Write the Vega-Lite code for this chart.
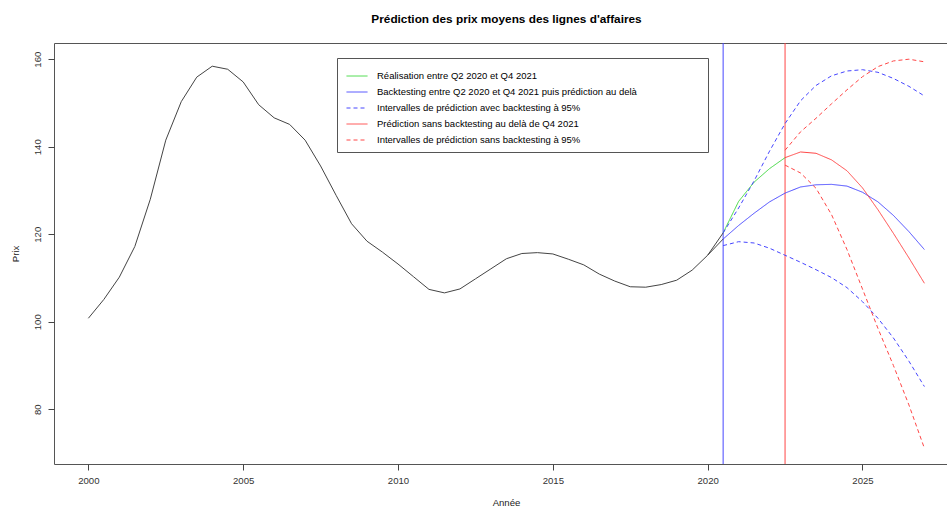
{
  "$schema": "https://vega.github.io/schema/vega-lite/v6.json",
  "autosize": "none",
  "width": 893,
  "height": 421,
  "padding": {"left": 54, "top": 43, "right": 0, "bottom": 46},
  "background": "white",
  "config": {
    "font": "Liberation Sans",
    "view": {"stroke": "#555", "strokeWidth": 1},
    "axis": {"grid": false, "domain": false, "tickColor": "#444", "tickSize": 6, "labelFont": "Liberation Sans", "labelFontSize": 9.6, "labelColor": "#333", "titleFont": "Liberation Sans", "titleFontSize": 9.6, "titleFontWeight": "normal", "titleColor": "#222"}
  },
  "title": {"text": "Prédiction des prix moyens des lignes d'affaires", "font": "Liberation Sans", "fontSize": 11.8, "fontWeight": "bold", "color": "#000", "anchor": "middle", "dx": 6, "offset": 17},
  "datasets": {
    "hist": [
      {"t": 2000, "v": 100.8, "g": "a"}, {"t": 2000.5, "v": 105.1, "g": "a"}, {"t": 2001, "v": 110.2, "g": "a"}, {"t": 2001.5, "v": 117.2, "g": "a"},
      {"t": 2002, "v": 128.0, "g": "a"}, {"t": 2002.5, "v": 141.5, "g": "a"}, {"t": 2003, "v": 150.3, "g": "a"}, {"t": 2003.5, "v": 155.9, "g": "a"},
      {"t": 2004, "v": 158.4, "g": "a"}, {"t": 2004.5, "v": 157.7, "g": "a"}, {"t": 2005, "v": 154.8, "g": "a"}, {"t": 2005.5, "v": 149.6, "g": "a"},
      {"t": 2006, "v": 146.6, "g": "a"}, {"t": 2006.5, "v": 145.1, "g": "a"}, {"t": 2007, "v": 141.5, "g": "a"}, {"t": 2007.5, "v": 135.6, "g": "a"},
      {"t": 2008, "v": 128.9, "g": "a"}, {"t": 2008.5, "v": 122.4, "g": "a"}, {"t": 2009, "v": 118.4, "g": "a"}, {"t": 2009.5, "v": 115.9, "g": "a"},
      {"t": 2010, "v": 113.2, "g": "a"}, {"t": 2010.5, "v": 110.3, "g": "a"}, {"t": 2011, "v": 107.4, "g": "a"}, {"t": 2011.5, "v": 106.6, "g": "a"},
      {"t": 2012, "v": 107.5, "g": "a"}, {"t": 2012.5, "v": 109.8, "g": "a"}, {"t": 2013, "v": 112.1, "g": "a"}, {"t": 2013.5, "v": 114.4, "g": "a"},
      {"t": 2014, "v": 115.6, "g": "a"}, {"t": 2014.5, "v": 115.8, "g": "a"}, {"t": 2015, "v": 115.5, "g": "a"}, {"t": 2015.5, "v": 114.3, "g": "a"},
      {"t": 2016, "v": 113.0, "g": "a"}, {"t": 2016.5, "v": 110.9, "g": "a"}, {"t": 2017, "v": 109.3, "g": "a"}, {"t": 2017.5, "v": 108.0, "g": "a"},
      {"t": 2018, "v": 107.9, "g": "a"}, {"t": 2018.5, "v": 108.5, "g": "a"}, {"t": 2019, "v": 109.5, "g": "a"}, {"t": 2019.5, "v": 111.8, "g": "a"},
      {"t": 2020, "v": 115.2, "g": "a"}, {"t": 2020.5, "v": 120.3, "g": "a"},
      {"t": 2020, "v": 115.2, "g": "b"}, {"t": 2020.5, "v": 118.9, "g": "b"}
    ],
    "prev": [
      {"t": 2020.5, "v": 120.3, "s": "Réalisation entre Q2 2020 et Q4 2021", "g": "g"},
      {"t": 2021, "v": 127.5, "s": "Réalisation entre Q2 2020 et Q4 2021", "g": "g"},
      {"t": 2021.5, "v": 131.9, "s": "Réalisation entre Q2 2020 et Q4 2021", "g": "g"},
      {"t": 2022, "v": 135.0, "s": "Réalisation entre Q2 2020 et Q4 2021", "g": "g"},
      {"t": 2022.5, "v": 137.5, "s": "Réalisation entre Q2 2020 et Q4 2021", "g": "g"},

      {"t": 2020.5, "v": 118.9, "s": "Backtesting entre Q2 2020 et Q4 2021 puis prédiction au delà", "g": "b"},
      {"t": 2021, "v": 122.0, "s": "Backtesting entre Q2 2020 et Q4 2021 puis prédiction au delà", "g": "b"},
      {"t": 2021.5, "v": 124.8, "s": "Backtesting entre Q2 2020 et Q4 2021 puis prédiction au delà", "g": "b"},
      {"t": 2022, "v": 127.4, "s": "Backtesting entre Q2 2020 et Q4 2021 puis prédiction au delà", "g": "b"},
      {"t": 2022.5, "v": 129.4, "s": "Backtesting entre Q2 2020 et Q4 2021 puis prédiction au delà", "g": "b"},
      {"t": 2023, "v": 130.8, "s": "Backtesting entre Q2 2020 et Q4 2021 puis prédiction au delà", "g": "b"},
      {"t": 2023.5, "v": 131.3, "s": "Backtesting entre Q2 2020 et Q4 2021 puis prédiction au delà", "g": "b"},
      {"t": 2024, "v": 131.4, "s": "Backtesting entre Q2 2020 et Q4 2021 puis prédiction au delà", "g": "b"},
      {"t": 2024.5, "v": 131.0, "s": "Backtesting entre Q2 2020 et Q4 2021 puis prédiction au delà", "g": "b"},
      {"t": 2025, "v": 129.6, "s": "Backtesting entre Q2 2020 et Q4 2021 puis prédiction au delà", "g": "b"},
      {"t": 2025.5, "v": 127.4, "s": "Backtesting entre Q2 2020 et Q4 2021 puis prédiction au delà", "g": "b"},
      {"t": 2026, "v": 124.3, "s": "Backtesting entre Q2 2020 et Q4 2021 puis prédiction au delà", "g": "b"},
      {"t": 2026.5, "v": 120.6, "s": "Backtesting entre Q2 2020 et Q4 2021 puis prédiction au delà", "g": "b"},
      {"t": 2027, "v": 116.5, "s": "Backtesting entre Q2 2020 et Q4 2021 puis prédiction au delà", "g": "b"},

      {"t": 2020.5, "v": 120.3, "s": "Intervalles de prédiction avec backtesting à 95%", "g": "bu"},
      {"t": 2021, "v": 126.0, "s": "Intervalles de prédiction avec backtesting à 95%", "g": "bu"},
      {"t": 2021.5, "v": 132.2, "s": "Intervalles de prédiction avec backtesting à 95%", "g": "bu"},
      {"t": 2022, "v": 139.0, "s": "Intervalles de prédiction avec backtesting à 95%", "g": "bu"},
      {"t": 2022.5, "v": 145.3, "s": "Intervalles de prédiction avec backtesting à 95%", "g": "bu"},
      {"t": 2023, "v": 150.5, "s": "Intervalles de prédiction avec backtesting à 95%", "g": "bu"},
      {"t": 2023.5, "v": 154.0, "s": "Intervalles de prédiction avec backtesting à 95%", "g": "bu"},
      {"t": 2024, "v": 156.2, "s": "Intervalles de prédiction avec backtesting à 95%", "g": "bu"},
      {"t": 2024.5, "v": 157.3, "s": "Intervalles de prédiction avec backtesting à 95%", "g": "bu"},
      {"t": 2025, "v": 157.6, "s": "Intervalles de prédiction avec backtesting à 95%", "g": "bu"},
      {"t": 2025.5, "v": 157.0, "s": "Intervalles de prédiction avec backtesting à 95%", "g": "bu"},
      {"t": 2026, "v": 155.6, "s": "Intervalles de prédiction avec backtesting à 95%", "g": "bu"},
      {"t": 2026.5, "v": 153.8, "s": "Intervalles de prédiction avec backtesting à 95%", "g": "bu"},
      {"t": 2027, "v": 151.6, "s": "Intervalles de prédiction avec backtesting à 95%", "g": "bu"},

      {"t": 2020.5, "v": 117.4, "s": "Intervalles de prédiction avec backtesting à 95%", "g": "bl"},
      {"t": 2021, "v": 118.3, "s": "Intervalles de prédiction avec backtesting à 95%", "g": "bl"},
      {"t": 2021.5, "v": 118.0, "s": "Intervalles de prédiction avec backtesting à 95%", "g": "bl"},
      {"t": 2022, "v": 116.8, "s": "Intervalles de prédiction avec backtesting à 95%", "g": "bl"},
      {"t": 2022.5, "v": 115.2, "s": "Intervalles de prédiction avec backtesting à 95%", "g": "bl"},
      {"t": 2023, "v": 113.6, "s": "Intervalles de prédiction avec backtesting à 95%", "g": "bl"},
      {"t": 2023.5, "v": 111.9, "s": "Intervalles de prédiction avec backtesting à 95%", "g": "bl"},
      {"t": 2024, "v": 110.1, "s": "Intervalles de prédiction avec backtesting à 95%", "g": "bl"},
      {"t": 2024.5, "v": 107.8, "s": "Intervalles de prédiction avec backtesting à 95%", "g": "bl"},
      {"t": 2025, "v": 104.6, "s": "Intervalles de prédiction avec backtesting à 95%", "g": "bl"},
      {"t": 2025.5, "v": 100.8, "s": "Intervalles de prédiction avec backtesting à 95%", "g": "bl"},
      {"t": 2026, "v": 96.3, "s": "Intervalles de prédiction avec backtesting à 95%", "g": "bl"},
      {"t": 2026.5, "v": 91.0, "s": "Intervalles de prédiction avec backtesting à 95%", "g": "bl"},
      {"t": 2027, "v": 85.2, "s": "Intervalles de prédiction avec backtesting à 95%", "g": "bl"},

      {"t": 2022.5, "v": 137.5, "s": "Prédiction sans backtesting au delà de Q4 2021", "g": "r"},
      {"t": 2023, "v": 138.8, "s": "Prédiction sans backtesting au delà de Q4 2021", "g": "r"},
      {"t": 2023.5, "v": 138.5, "s": "Prédiction sans backtesting au delà de Q4 2021", "g": "r"},
      {"t": 2024, "v": 137.0, "s": "Prédiction sans backtesting au delà de Q4 2021", "g": "r"},
      {"t": 2024.5, "v": 134.5, "s": "Prédiction sans backtesting au delà de Q4 2021", "g": "r"},
      {"t": 2025, "v": 130.6, "s": "Prédiction sans backtesting au delà de Q4 2021", "g": "r"},
      {"t": 2025.5, "v": 125.6, "s": "Prédiction sans backtesting au delà de Q4 2021", "g": "r"},
      {"t": 2026, "v": 120.2, "s": "Prédiction sans backtesting au delà de Q4 2021", "g": "r"},
      {"t": 2026.5, "v": 114.6, "s": "Prédiction sans backtesting au delà de Q4 2021", "g": "r"},
      {"t": 2027, "v": 108.8, "s": "Prédiction sans backtesting au delà de Q4 2021", "g": "r"},

      {"t": 2022.5, "v": 139.2, "s": "Intervalles de prédiction sans backtesting à 95%", "g": "ru"},
      {"t": 2023, "v": 143.4, "s": "Intervalles de prédiction sans backtesting à 95%", "g": "ru"},
      {"t": 2023.5, "v": 146.5, "s": "Intervalles de prédiction sans backtesting à 95%", "g": "ru"},
      {"t": 2024, "v": 149.8, "s": "Intervalles de prédiction sans backtesting à 95%", "g": "ru"},
      {"t": 2024.5, "v": 153.0, "s": "Intervalles de prédiction sans backtesting à 95%", "g": "ru"},
      {"t": 2025, "v": 156.0, "s": "Intervalles de prédiction sans backtesting à 95%", "g": "ru"},
      {"t": 2025.5, "v": 158.3, "s": "Intervalles de prédiction sans backtesting à 95%", "g": "ru"},
      {"t": 2026, "v": 159.6, "s": "Intervalles de prédiction sans backtesting à 95%", "g": "ru"},
      {"t": 2026.5, "v": 160.0, "s": "Intervalles de prédiction sans backtesting à 95%", "g": "ru"},
      {"t": 2027, "v": 159.4, "s": "Intervalles de prédiction sans backtesting à 95%", "g": "ru"},

      {"t": 2022.5, "v": 135.8, "s": "Intervalles de prédiction sans backtesting à 95%", "g": "rl"},
      {"t": 2023, "v": 134.0, "s": "Intervalles de prédiction sans backtesting à 95%", "g": "rl"},
      {"t": 2023.5, "v": 130.5, "s": "Intervalles de prédiction sans backtesting à 95%", "g": "rl"},
      {"t": 2024, "v": 124.5, "s": "Intervalles de prédiction sans backtesting à 95%", "g": "rl"},
      {"t": 2024.5, "v": 116.5, "s": "Intervalles de prédiction sans backtesting à 95%", "g": "rl"},
      {"t": 2025, "v": 107.5, "s": "Intervalles de prédiction sans backtesting à 95%", "g": "rl"},
      {"t": 2025.5, "v": 98.5, "s": "Intervalles de prédiction sans backtesting à 95%", "g": "rl"},
      {"t": 2026, "v": 90.0, "s": "Intervalles de prédiction sans backtesting à 95%", "g": "rl"},
      {"t": 2026.5, "v": 81.0, "s": "Intervalles de prédiction sans backtesting à 95%", "g": "rl"},
      {"t": 2027, "v": 71.1, "s": "Intervalles de prédiction sans backtesting à 95%", "g": "rl"}
    ],
    "vline_blue": [{"t": 2020.5}],
    "vline_red": [{"t": 2022.5}]
  },
  "layer": [
    {
      "data": {"name": "vline_blue"},
      "mark": {"type": "rule", "strokeWidth": 1, "color": "#4646ff"},
      "encoding": {
        "x": {"field": "t", "type": "quantitative", "scale": {"domain": [1998.89, 2027.73], "nice": false, "zero": false}}
      }
    },
    {
      "data": {"name": "vline_red"},
      "mark": {"type": "rule", "strokeWidth": 1, "color": "#ff4646"},
      "encoding": {
        "x": {"field": "t", "type": "quantitative"}
      }
    },
    {
      "data": {"name": "hist"},
      "mark": {"type": "line", "strokeWidth": 1, "color": "#444"},
      "encoding": {
        "x": {"field": "t", "type": "quantitative", "title": "Année",
              "axis": {"values": [2000, 2005, 2010, 2015, 2020, 2025], "format": "d", "labelPadding": 5, "titlePadding": 13, "titleX": 452}},
        "y": {"field": "v", "type": "quantitative", "title": "Prix",
              "scale": {"domain": [67.5, 163.7], "nice": false, "zero": false},
              "axis": {"values": [80, 100, 120, 140, 160], "labelAngle": -90, "labelAlign": "center", "labelBaseline": "bottom", "labelPadding": 6, "titlePadding": 12}},
        "detail": {"field": "g", "type": "nominal"}
      }
    },
    {
      "data": {"name": "prev"},
      "mark": {"type": "line", "strokeWidth": 1},
      "encoding": {
        "x": {"field": "t", "type": "quantitative"},
        "y": {"field": "v", "type": "quantitative"},
        "detail": {"field": "g", "type": "nominal"},
        "color": {
          "field": "s", "type": "nominal",
          "scale": {
            "domain": ["Réalisation entre Q2 2020 et Q4 2021", "Backtesting entre Q2 2020 et Q4 2021 puis prédiction au delà", "Intervalles de prédiction avec backtesting à 95%", "Prédiction sans backtesting au delà de Q4 2021", "Intervalles de prédiction sans backtesting à 95%"],
            "range": ["#3fd83f", "#4646ff", "#4646ff", "#ff4646", "#ff4646"]
          },
          "legend": {"orient": "none", "legendX": 283, "legendY": 15, "title": null, "symbolType": "stroke", "symbolSize": 441, "symbolStrokeWidth": 1, "symbolOffset": 2, "labelFont": "Liberation Sans", "labelFontSize": 9.5, "labelColor": "#000", "labelOffset": 9, "labelLimit": 500, "rowPadding": -6, "padding": 7, "strokeColor": "#555", "fillColor": "#ffffff", "labelExpr": "datum.label + '\u00a0\u00a0\u00a0\u00a0\u00a0\u00a0\u00a0\u00a0\u00a0\u00a0\u00a0\u00a0\u00a0\u00a0\u00a0\u00a0\u00a0\u00a0\u00a0\u00a0\u00a0\u00a0\u00a0\u00a0\u200b'"}
        },
        "strokeDash": {
          "field": "s", "type": "nominal",
          "scale": {
            "domain": ["Réalisation entre Q2 2020 et Q4 2021", "Backtesting entre Q2 2020 et Q4 2021 puis prédiction au delà", "Intervalles de prédiction avec backtesting à 95%", "Prédiction sans backtesting au delà de Q4 2021", "Intervalles de prédiction sans backtesting à 95%"],
            "range": [[1, 0], [1, 0], [4, 3], [1, 0], [4, 3]]
          },
          "legend": {"orient": "none", "legendX": 283, "legendY": 15, "title": null, "symbolType": "stroke", "symbolSize": 441, "symbolStrokeWidth": 1, "symbolOffset": 2, "labelFont": "Liberation Sans", "labelFontSize": 9.5, "labelColor": "#000", "labelOffset": 9, "labelLimit": 500, "rowPadding": -6, "padding": 7, "strokeColor": "#555", "fillColor": "#ffffff", "labelExpr": "datum.label + '\u00a0\u00a0\u00a0\u00a0\u00a0\u00a0\u00a0\u00a0\u00a0\u00a0\u00a0\u00a0\u00a0\u00a0\u00a0\u00a0\u00a0\u00a0\u00a0\u00a0\u00a0\u00a0\u00a0\u00a0\u200b'"}
        }
      }
    }
  ]
}
